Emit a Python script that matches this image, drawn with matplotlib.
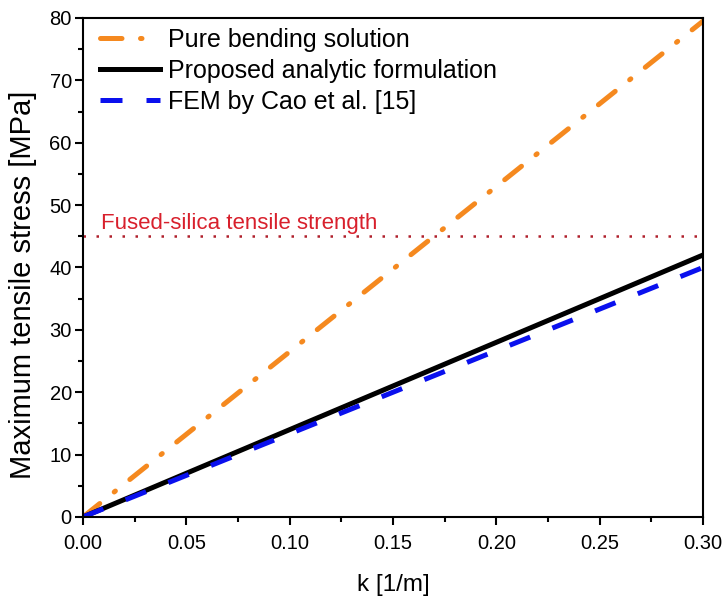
import matplotlib.pyplot as plt
from matplotlib.ticker import MultipleLocator

plt.rcParams['font.family'] = ['Liberation Sans', 'DejaVu Sans']

# curvature k [1/m] and max tensile stress [MPa]
k = [0.0, 0.30]
pure_bending = [0.0, 79.5]
proposed = [0.0, 42.0]
fem_cao = [0.0, 40.0]
strength = 45.0

fig = plt.figure(figsize=(7.24, 5.96), dpi=100)
ax = fig.add_axes([0.1146, 0.1326, 0.8564, 0.8372])

ax.plot(k, pure_bending, color='#f5891f', lw=3.6, dashes=(4.3, 3.7, 0.3, 3.7),
        dash_capstyle='round', label='Pure bending solution')
ax.plot(k, proposed, color='black', lw=3.6, label='Proposed analytic formulation')
ax.plot(k, fem_cao, color='#0a10ee', lw=3.6, dashes=(4.4, 4.8),
        label='FEM by Cao et al. [15]')
ax.axhline(strength, color='#b0202c', lw=1.8, dashes=(1, 4.2))
ax.text(0.0085, 46.2, 'Fused-silica tensile strength', color='#d8202c',
        fontsize=16, va='baseline', ha='left')

ax.set_xlim(0, 0.30)
ax.set_ylim(0, 80)
ax.xaxis.set_major_locator(MultipleLocator(0.05))
ax.xaxis.set_minor_locator(MultipleLocator(0.025))
ax.yaxis.set_major_locator(MultipleLocator(10))
ax.yaxis.set_minor_locator(MultipleLocator(5))
ax.set_xticklabels([f'{v:.2f}' for v in ax.get_xticks()])
ax.tick_params(which='major', direction='out', length=6, width=1.5, labelsize=14.5)
ax.tick_params(axis='x', which='major', pad=6)
ax.tick_params(axis='y', which='major', pad=2)
ax.tick_params(which='minor', direction='out', length=3.6, width=1.5)
for s in ax.spines.values():
    s.set_linewidth(1.5)

ax.set_xlabel('k [1/m]', fontsize=17.5)
ax.xaxis.set_label_coords(0.5, -0.115)
ax.set_ylabel('Maximum tensile stress [MPa]', fontsize=21)
ax.yaxis.set_label_coords(-0.074, 0.465)

ax.legend(loc='upper left', frameon=False, fontsize=18, handlelength=2.4,
          handletextpad=0.3, labelspacing=0.28, borderaxespad=0.0,
          bbox_to_anchor=(0.012, 1.0))

fig.savefig('out.png', dpi=100)
